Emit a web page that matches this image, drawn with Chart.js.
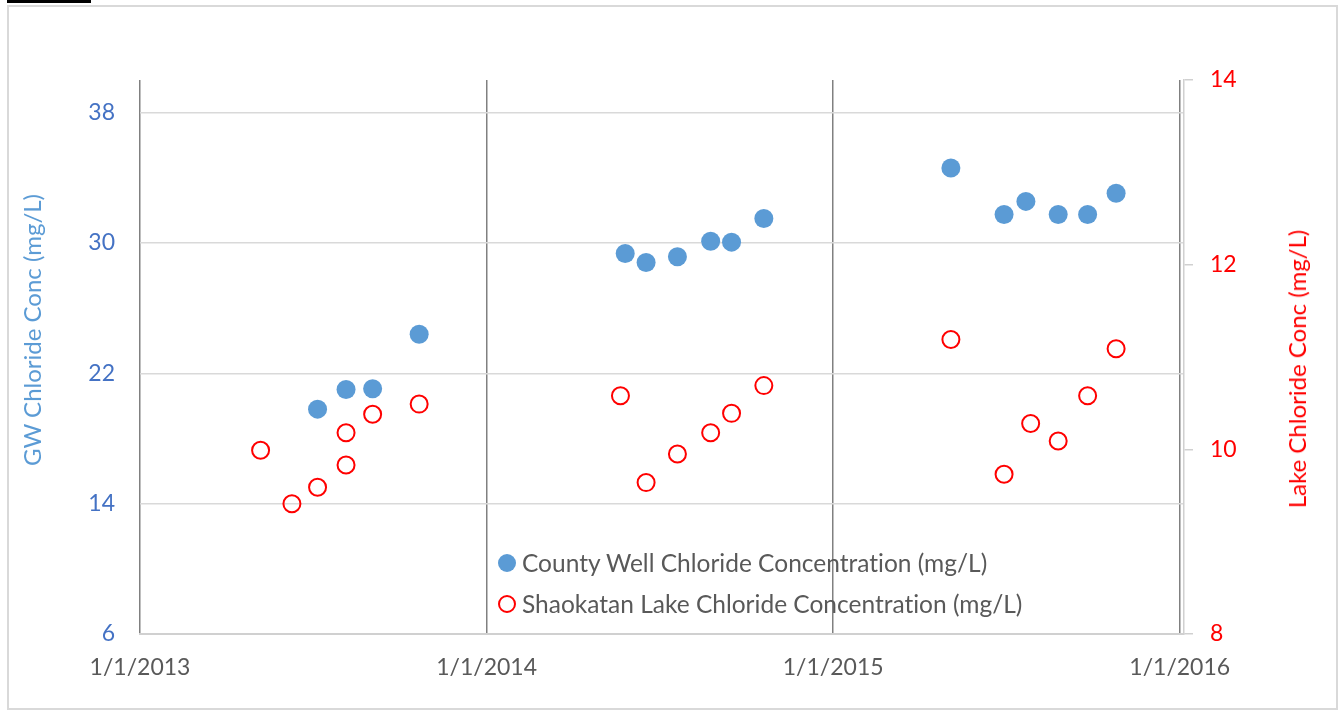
<!DOCTYPE html>
<html><head><meta charset="utf-8">
<script src="https://cdn.jsdelivr.net/npm/chart.js@4.4.1/dist/chart.umd.min.js"></script>
<style>
html,body{margin:0;padding:0;background:#fff;}
#wrap{position:relative;width:1340px;height:711px;overflow:hidden;background:#fff;font-family:Lato,"Open Sans",sans-serif;font-variant-ligatures:none;}
#frame{position:absolute;left:7px;top:5px;width:1331px;height:705px;border:2px solid #d9d9d9;box-sizing:border-box;}
#cut{position:absolute;left:7px;top:0;width:84px;height:3px;background:#000;}
canvas{position:absolute;left:0;top:0;}
.ttl{position:absolute;white-space:nowrap;font-size:24px;line-height:28px;transform:translate(-50%,-50%) rotate(-90deg);}
#lg{position:absolute;left:497px;top:544px;font-size:24.5px;color:#595959;}
#lg .row{position:relative;height:41px;line-height:38px;padding-left:25px;white-space:nowrap;}
#lg .mk{position:absolute;left:1px;top:10px;width:18px;height:18px;border-radius:50%;box-sizing:border-box;}
</style></head>
<body>
<div id="wrap">
  <div id="frame"></div>
  <div id="cut"></div>
  <canvas id="c" width="1340" height="711"></canvas>
  <div class="ttl" id="tl" style="left:32px;top:330px;color:#5b9bd5;">GW Chloride Conc (mg/L)</div>
  <div class="ttl" id="tr" style="left:1297px;top:369px;color:#ff0000;">Lake Chloride Conc (mg/L)</div>
  <div id="lg">
    <div class="row"><span class="mk" style="background:#5b9bd5;"></span><span id="l1"></span></div>
    <div class="row"><span class="mk" style="border:2px solid #ff0000;background:#fff;"></span><span id="l2"></span></div>
  </div>
</div>
<script>
// ---- data ----
const wellName = 'County Well Chloride Concentration (mg/L)';
const lakeName = 'Shaokatan Lake Chloride Concentration (mg/L)';
const wellDates = ['2013-07-07','2013-08-06','2013-09-03','2013-10-22','2014-05-27','2014-06-18','2014-07-21','2014-08-25','2014-09-16','2014-10-20','2015-05-05','2015-06-30','2015-07-23','2015-08-26','2015-09-26','2015-10-26'];
const wellValues = [19.8,21.0,21.05,24.4,29.35,28.8,29.15,30.1,30.05,31.5,34.6,31.75,32.55,31.75,31.75,33.05];
const lakeDates = ['2013-05-08','2013-06-10','2013-07-07','2013-08-06','2013-08-06','2013-09-03','2013-10-22','2014-05-22','2014-06-18','2014-07-21','2014-08-25','2014-09-16','2014-10-20','2015-05-05','2015-06-30','2015-07-28','2015-08-26','2015-09-26','2015-10-26'];
const lakeValues = [9.99,9.41,9.59,9.83,10.18,10.38,10.49,10.58,9.64,9.95,10.18,10.39,10.69,11.19,9.73,10.28,10.09,10.58,11.09];
const xTickDates = ['2013-01-01','2014-01-01','2015-01-01','2016-01-01'];
const xTickLabels = ['1/1/2013','1/1/2014','1/1/2015','1/1/2016'];
const yLeftTicks = [6,14,22,30,38];
const yRightTicks = [8,10,12,14];

document.getElementById('l1').textContent = wellName;
document.getElementById('l2').textContent = lakeName;

const day = 86400000;
const t = s => Date.parse(s);
const xTicks = xTickDates.map(t);

new Chart(document.getElementById('c'), {
  type: 'scatter',
  data: {
    datasets: [
      { label: wellName, data: wellDates.map((d,i)=>({x:t(d), y:wellValues[i]})), yAxisID:'y',
        pointRadius:9.5, pointHoverRadius:9.5, backgroundColor:'#5b9bd5', borderColor:'#5b9bd5', borderWidth:0 },
      { label: lakeName, data: lakeDates.map((d,i)=>({x:t(d), y:lakeValues[i]})), yAxisID:'y2',
        pointRadius:8.5, pointHoverRadius:8.5, backgroundColor:'rgba(255,255,255,0)', borderColor:'#ff0000', borderWidth:2 }
    ]
  },
  options: {
    responsive:false, animation:false, devicePixelRatio:1,
    layout:{padding:{top:80,left:0,right:0,bottom:0}},
    plugins:{legend:{display:false}, tooltip:{enabled:false}},
    font:{family:'Lato'},
    scales:{
      x:{ type:'linear', min:xTicks[0], max:xTicks[3]+4.5*day,
        afterBuildTicks:s=>{ s.ticks = xTicks.map(v=>({value:v})); },
        ticks:{ callback:(v,i)=>xTickLabels[i], color:'#595959', font:{family:'Lato',size:23}, padding:20, maxRotation:0, autoSkip:false },
        grid:{ color:'#808080', lineWidth:1.5, drawTicks:false },
        border:{ display:true, color:'#d0d0d0', width:2 },
        afterFit:s=>{ s.height = 77; }
      },
      y:{ position:'left', min:6, max:40,
        afterBuildTicks:s=>{ s.ticks = yLeftTicks.map(v=>({value:v})); },
        ticks:{ color:'#4472c4', font:{family:'Lato',size:23}, padding:25 },
        grid:{ color:'#d9d9d9', lineWidth:1.5, drawTicks:false },
        border:{ display:false },
        afterFit:s=>{ s.width = 140; }
      },
      y2:{ position:'right', min:8, max:14,
        afterBuildTicks:s=>{ s.ticks = yRightTicks.map(v=>({value:v})); },
        ticks:{ color:'#ff0000', font:{family:'Lato',size:23}, padding:17 },
        grid:{ drawOnChartArea:false, color:'#d0d0d0', lineWidth:1.5, drawTicks:true, tickLength:9 },
        border:{ display:true, color:'#d0d0d0', width:1.5 },
        afterFit:s=>{ s.width = 156; }
      }
    }
  }
});
</script>
</body></html>
